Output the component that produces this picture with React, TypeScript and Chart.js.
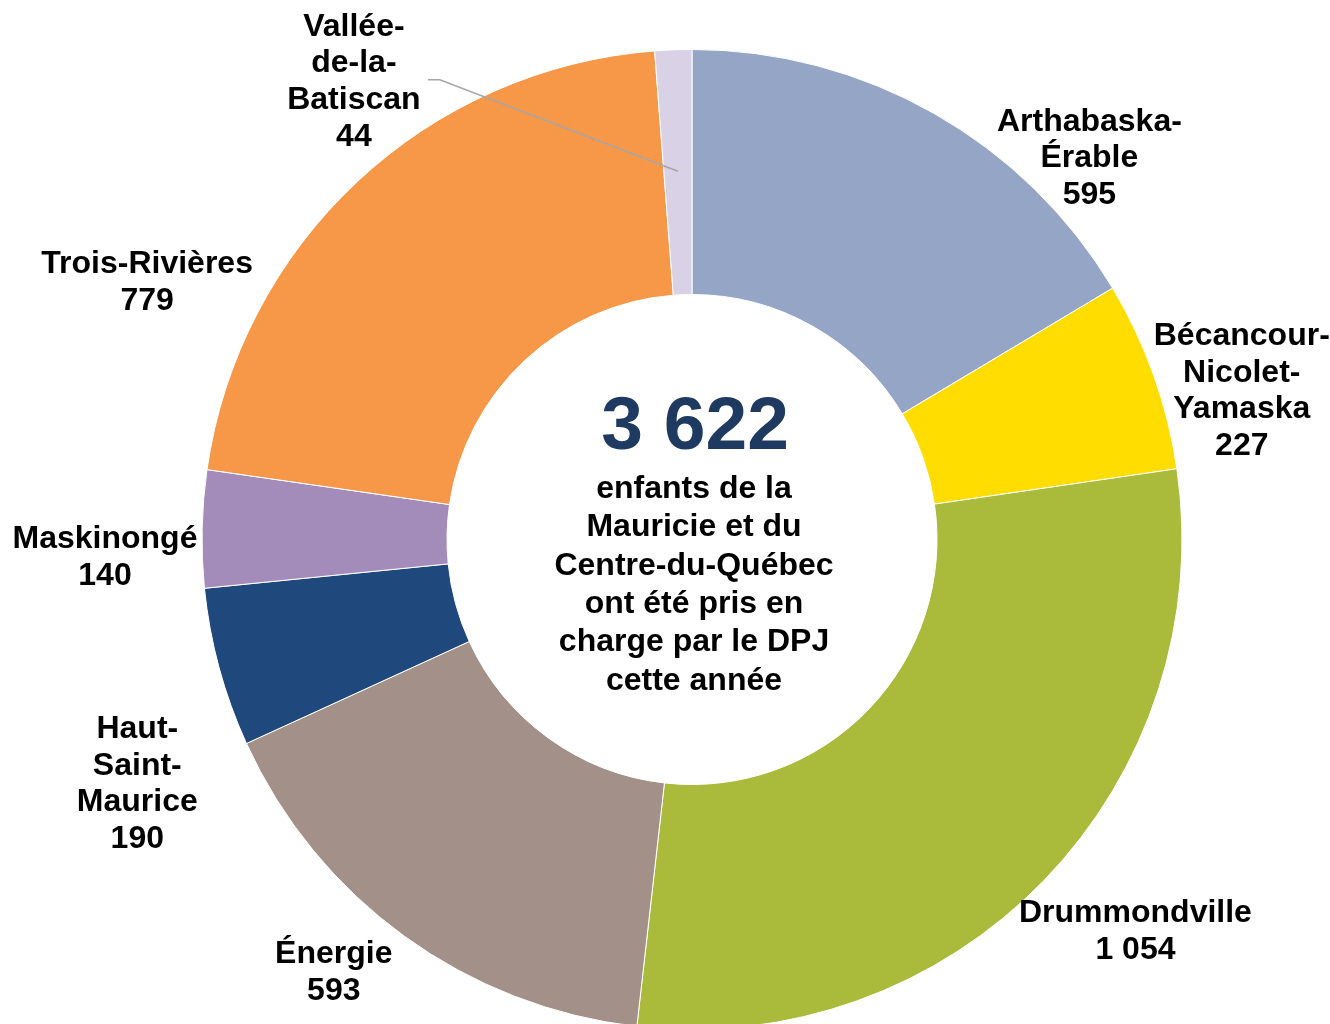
import React, { useEffect, useRef } from "react";
import { Chart, registerables } from "chart.js";

Chart.register(...registerables);

const categories: string[][] = [
  ["Arthabaska-", "Érable"],
  ["Bécancour-", "Nicolet-", "Yamaska"],
  ["Drummondville"],
  ["Énergie"],
  ["Haut-", "Saint-", "Maurice"],
  ["Maskinongé"],
  ["Trois-Rivières"],
  ["Vallée-", "de-la-", "Batiscan"],
];
const valueLabels = ["595", "227", "1 054", "593", "190", "140", "779", "44"];
const values = [595, 227, 1054, 593, 190, 140, 779, 44];
const colors = ["#94A5C6", "#FFDD00", "#AABA3A", "#A39088", "#1F497C", "#A38CBA", "#F79748", "#D9D1E5"];
const totalText = "3 622";
const centerLines = [
  "enfants de la",
  "Mauricie et du",
  "Centre-du-Québec",
  "ont été pris en",
  "charge par le DPJ",
  "cette année",
];

// label block centres, as offsets from the doughnut centre in units of outer radius
const labelOffsets: [number, number][] = [
  [0.811, -0.778],
  [1.122, -0.303],
  [0.905, 0.8],
  [-0.731, 0.884],
  [-1.132, 0.499],
  [-1.198, 0.037],
  [-1.112, -0.524],
  [-0.69, -0.934],
];

const FONT = "'Liberation Sans', Arial, sans-serif";

const labelPlugin = {
  id: "outerLabels",
  afterDraw(chart: any) {
    const ctx = chart.ctx;
    const meta = chart.getDatasetMeta(0);
    const arc0 = meta.data[0];
    const cx = arc0.x;
    const cy = arc0.y;
    const R = arc0.outerRadius;
    ctx.save();
    // leader line for the small slice
    const last = meta.data[meta.data.length - 1];
    const midA = (last.startAngle + last.endAngle) / 2;
    const rr = R * 0.752;
    const px = cx + Math.cos(midA) * rr;
    const py = cy + Math.sin(midA) * rr;
    const off = labelOffsets[labelOffsets.length - 1];
    const lx = cx + off[0] * R;
    const ly = cy + off[1] * R - 2;
    ctx.strokeStyle = "#A6A6A6";
    ctx.lineWidth = 1.5;
    ctx.beginPath();
    ctx.moveTo(lx + 74, ly);
    ctx.lineTo(lx + 86, ly);
    ctx.lineTo(px, py);
    ctx.stroke();

    ctx.fillStyle = "#000";
    ctx.font = `bold 32px ${FONT}`;
    ctx.textAlign = "center";
    ctx.textBaseline = "middle";
    const lh = 36.6;
    categories.forEach((lines, i) => {
      const all = [...lines, valueLabels[i]];
      const x = cx + labelOffsets[i][0] * R;
      const y = cy + labelOffsets[i][1] * R;
      const top = y - ((all.length - 1) * lh) / 2;
      all.forEach((t, j) => ctx.fillText(t, x, top + j * lh));
    });

    // centre text
    ctx.fillStyle = "#1F3A60";
    ctx.font = `bold 75px ${FONT}`;
    ctx.fillText(totalText, cx + 3, cy - 111);
    ctx.fillStyle = "#000";
    ctx.font = `bold 32px ${FONT}`;
    centerLines.forEach((t, j) => ctx.fillText(t, cx + 2, cy - 50.5 + j * 38.4));
    ctx.restore();
  },
};

export default function App() {
  const ref = useRef<HTMLCanvasElement | null>(null);
  useEffect(() => {
    if (!ref.current) return;
    const chart = new Chart(ref.current, {
      type: "doughnut",
      data: {
        labels: categories.map((c) => c.join("")),
        datasets: [
          {
            data: values,
            backgroundColor: colors,
            borderColor: "#FFFFFF",
            borderWidth: 1,
            hoverOffset: 0,
          },
        ],
      },
      options: {
        animation: false,
        responsive: false,
        cutout: "50%",
        layout: { padding: { left: 201, right: 147, top: 49, bottom: 10 } },
        plugins: { legend: { display: false }, tooltip: { enabled: false } },
      },
      plugins: [labelPlugin],
    });
    return () => chart.destroy();
  }, []);
  return (
    <div
      style={{
        position: "absolute",
        left: 0,
        top: 0,
        width: 1330,
        height: 1024,
        overflow: "hidden",
        background: "#fff",
      }}
    >
      <canvas ref={ref} width={1330} height={1040} style={{ width: 1330, height: 1040 }} />
    </div>
  );
}
